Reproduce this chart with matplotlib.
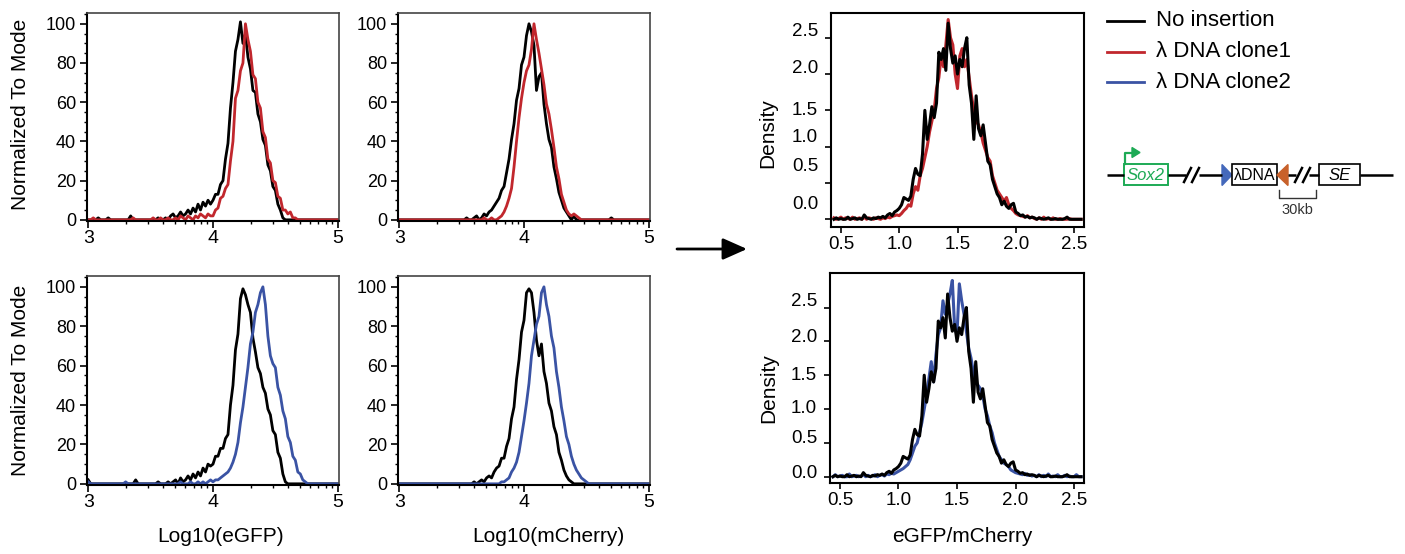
import numpy as np
import matplotlib
matplotlib.use('Agg')
import matplotlib.pyplot as plt
from matplotlib.ticker import MultipleLocator
from matplotlib.patches import Rectangle, Polygon

plt.rcParams['font.family'] = ['Liberation Sans', 'DejaVu Sans']

# ---- data: flow histograms, bins 3.00 .. 5.00 step 0.02 (log10 intensity)
log_bins = np.round(3.0 + 0.02 * np.arange(101), 2)

egfp_ctrl_a = [0, 0, 0, 0, 1, 0, 0, 0, 1, 0,
               0, 0, 0, 0, 0, 0, 0, 2, 0, 0,
               0, 0, 0, 0, 0, 0, 0, 0, 1, 0,
               0, 1, 0, 2, 3, 1, 2, 4, 2, 3,
               5, 3, 6, 4, 8, 5, 9, 7, 10, 8,
               10, 13, 13, 18, 20, 31, 39, 57, 70, 86,
               92, 101, 90, 95, 83, 77, 66, 65, 54, 50,
               41, 38, 28, 25, 17, 15, 8, 5, 1, 0,
               0, 0, 0, 0, 0, 0, 0, 0, 0, 0,
               0, 0, 0, 0, 0, 0, 0, 0, 0, 0,
               0]
egfp_clone1 = [0, 0, 1, 0, 0, 0, 0, 0, 0, 0,
               0, 0, 0, 0, 0, 0, 0, 0, 1, 0,
               0, 0, 0, 0, 0, 0, 1, 0, 0, 1,
               0, 0, 1, 0, 0, 1, 0, 2, 1, 0,
               2, 1, 0, 2, 1, 3, 2, 1, 3, 2,
               2, 5, 6, 11, 12, 16, 18, 30, 40, 62,
               66, 76, 80, 100, 92, 86, 74, 72, 60, 57,
               45, 42, 31, 29, 20, 19, 12, 11, 5, 5,
               3, 4, 1, 1, 0, 0, 0, 0, 0, 0,
               0, 0, 0, 0, 0, 0, 0, 0, 0, 0,
               0]
egfp_ctrl_b = [2, 0, 0, 0, 0, 0, 0, 0, 0, 0,
               0, 0, 0, 0, 0, 0, 0, 0, 0, 2,
               0, 0, 0, 0, 0, 0, 0, 0, 1, 0,
               0, 0, 1, 0, 1, 2, 0, 3, 1, 2,
               4, 2, 5, 3, 6, 4, 8, 6, 10, 9,
               10, 14, 14, 18, 18, 23, 25, 40, 50, 68,
               76, 94, 99, 96, 91, 87, 74, 67, 59, 56,
               49, 46, 38, 35, 27, 25, 16, 13, 5, 1,
               0, 0, 0, 0, 0, 0, 0, 0, 0, 0,
               0, 0, 0, 0, 0, 0, 0, 0, 0, 0,
               0]
egfp_clone2 = [1, 0, 0, 0, 0, 0, 0, 0, 0, 0,
               0, 0, 0, 0, 0, 1, 0, 0, 0, 0,
               0, 0, 0, 0, 0, 0, 0, 0, 0, 0,
               0, 0, 0, 0, 0, 0, 0, 1, 0, 0,
               0, 1, 0, 0, 1, 0, 1, 0, 1, 2,
               1, 2, 2, 3, 4, 5, 6, 8, 11, 15,
               21, 31, 39, 49, 59, 71, 77, 87, 91, 97,
               100, 91, 75, 65, 61, 59, 49, 45, 37, 33,
               24, 21, 14, 12, 6, 5, 2, 1, 0, 0,
               0, 0, 0, 0, 0, 0, 0, 0, 0, 0,
               0]
mch_ctrl_a = [0, 0, 0, 0, 0, 0, 0, 0, 0, 0,
              0, 0, 0, 0, 0, 0, 0, 0, 0, 0,
              0, 0, 0, 0, 0, 0, 0, 1, 0, 0,
              1, 2, 0, 1, 3, 2, 4, 5, 7, 9,
              11, 15, 17, 24, 31, 41, 49, 61, 67, 79,
              83, 94, 100, 96, 89, 66, 73, 75, 59, 49,
              41, 37, 27, 21, 14, 10, 6, 4, 2, 0,
              2, 0, 0, 0, 0, 0, 0, 0, 0, 0,
              0, 0, 0, 0, 0, 1, 0, 0, 0, 0,
              0, 0, 0, 0, 0, 0, 0, 0, 0, 0,
              0]
mch_clone1 = [0, 0, 0, 0, 0, 0, 0, 0, 0, 0,
              0, 0, 0, 0, 0, 0, 0, 0, 0, 0,
              0, 0, 0, 0, 0, 0, 0, 0, 0, 0,
              0, 0, 0, 0, 1, 0, 0, 1, 0, 0,
              1, 2, 4, 7, 11, 16, 27, 40, 52, 62,
              70, 76, 79, 87, 100, 92, 85, 77, 69, 59,
              54, 46, 37, 27, 21, 13, 9, 5, 3, 2,
              3, 2, 1, 0, 0, 0, 0, 0, 0, 0,
              0, 0, 0, 0, 0, 0, 0, 0, 0, 0,
              0, 0, 0, 0, 0, 0, 0, 0, 0, 0,
              0]
mch_ctrl_b = [0, 0, 0, 0, 0, 0, 0, 0, 0, 0,
              0, 0, 0, 0, 0, 0, 0, 0, 0, 0,
              0, 0, 0, 0, 0, 0, 0, 0, 0, 0,
              1, 0, 1, 2, 1, 3, 4, 3, 6, 8,
              9, 13, 13, 19, 23, 33, 39, 53, 63, 77,
              83, 97, 99, 97, 87, 73, 65, 71, 57, 51,
              41, 37, 29, 25, 16, 12, 7, 4, 2, 1,
              0, 0, 0, 0, 0, 0, 0, 0, 0, 0,
              0, 0, 0, 0, 0, 0, 0, 0, 0, 0,
              0, 0, 0, 0, 0, 0, 0, 0, 0, 0,
              0]
mch_clone2 = [0, 0, 0, 0, 0, 0, 0, 0, 0, 0,
              0, 0, 0, 0, 0, 0, 0, 0, 0, 0,
              0, 0, 0, 0, 0, 0, 0, 0, 0, 0,
              0, 0, 0, 0, 0, 0, 0, 0, 0, 0,
              0, 1, 1, 2, 3, 6, 8, 11, 16, 24,
              32, 41, 51, 65, 73, 81, 85, 97, 100, 91,
              85, 75, 69, 57, 49, 39, 32, 24, 20, 14,
              10, 7, 5, 3, 2, 1, 0, 0, 0, 0,
              0, 0, 0, 0, 0, 0, 0, 0, 0, 0,
              0, 0, 0, 0, 0, 0, 0, 0, 0, 0,
              0]

# ---- data: eGFP/mCherry density, bins 0.44 .. 2.56 step 0.02
ratio_bins = np.round(0.44 + 0.02 * np.arange(107), 2)

ratio_ctrl = [0.0, 0.02, 0.0, 0.01, 0.0, 0.0, 0.03, 0.0, 0.01, 0.02,
              0.0, 0.01, 0.0, 0.06, 0.02, 0.01, 0.0, 0.02, 0.01, 0.03,
              0.02, 0.04, 0.02, 0.06, 0.08, 0.05, 0.10, 0.12, 0.15, 0.20,
              0.30, 0.28, 0.26, 0.32, 0.55, 0.70, 0.62, 0.60, 0.90, 1.50,
              1.10, 1.30, 1.55, 1.40, 1.60, 2.30, 2.20, 2.35, 2.05, 2.70,
              2.35, 2.15, 2.25, 2.00, 2.20, 2.10, 2.35, 2.50, 1.85, 1.60,
              1.10, 1.70, 1.25, 1.15, 1.30, 1.05, 0.80, 0.75, 0.55, 0.45,
              0.35, 0.30, 0.20, 0.25, 0.18, 0.15, 0.20, 0.22, 0.10, 0.08,
              0.05, 0.06, 0.03, 0.04, 0.02, 0.03, 0.02, 0.0, 0.02, 0.01,
              0.0, 0.01, 0.02, 0.0, 0.0, 0.01, 0.0, 0.0, 0.0, 0.01,
              0.03, 0.0, 0.0, 0.0, 0.0, 0.0, 0.0]
ratio_clone1 = [0.02, 0.0, 0.01, 0.03, 0.0, 0.02, 0.01, 0.0, 0.03, 0.0,
                0.01, 0.02, 0.0, 0.03, 0.0, 0.02, 0.01, 0.0, 0.02, 0.01,
                0.0, 0.02, 0.01, 0.03, 0.02, 0.04, 0.05, 0.06, 0.05, 0.08,
                0.12, 0.15, 0.20, 0.18, 0.35, 0.45, 0.40, 0.60, 0.70, 0.85,
                1.00, 1.20, 1.35, 1.50, 1.80, 1.95, 2.25, 2.10, 2.40, 2.75,
                2.50, 2.40, 2.00, 1.80, 2.25, 2.35, 2.10, 2.20, 1.95, 1.70,
                1.50, 1.35, 1.30, 1.20, 1.05, 0.95, 0.85, 0.80, 0.60, 0.50,
                0.40, 0.35, 0.30, 0.25, 0.30, 0.20, 0.15, 0.12, 0.08, 0.06,
                0.05, 0.04, 0.03, 0.05, 0.02, 0.03, 0.01, 0.0, 0.02, 0.0,
                0.03, 0.0, 0.01, 0.0, 0.02, 0.0, 0.0, 0.01, 0.0, 0.0,
                0.0, 0.01, 0.0, 0.0, 0.0, 0.0, 0.0]
ratio_clone2 = [0.0, 0.03, 0.0, 0.01, 0.02, 0.0, 0.0, 0.04, 0.0, 0.01,
                0.02, 0.0, 0.01, 0.03, 0.0, 0.02, 0.0, 0.01, 0.03, 0.0,
                0.02, 0.03, 0.01, 0.04, 0.03, 0.05, 0.04, 0.06, 0.08, 0.10,
                0.12, 0.15, 0.18, 0.25, 0.35, 0.45, 0.50, 0.65, 0.80, 1.00,
                1.20, 1.45, 1.70, 1.40, 1.80, 2.10, 2.20, 2.60, 2.40, 2.55,
                2.70, 2.90, 2.20, 2.10, 2.85, 2.60, 2.40, 2.15, 1.90, 1.75,
                1.55, 1.40, 1.35, 1.30, 1.20, 1.00, 0.90, 0.75, 0.65, 0.50,
                0.40, 0.30, 0.25, 0.20, 0.18, 0.15, 0.10, 0.08, 0.06, 0.05,
                0.04, 0.03, 0.05, 0.02, 0.03, 0.01, 0.02, 0.0, 0.03, 0.0,
                0.02, 0.0, 0.04, 0.0, 0.01, 0.0, 0.03, 0.0, 0.0, 0.02,
                0.0, 0.01, 0.0, 0.0, 0.03, 0.0, 0.0]

legend_labels = ['No insertion', 'λ DNA clone1', 'λ DNA clone2']
RED = '#c1272d'
BLUE = '#3a53a4'
legend_colors = ['black', RED, BLUE]

dens_xticks = [0.5, 1.0, 1.5, 2.0, 2.5]
dens_yticks = [0.0, 0.5, 1.0, 1.5, 2.0, 2.5]

W, H = 1405, 554
fig = plt.figure(figsize=(W / 100, H / 100), dpi=100)


def box(x0, y0, x1, y1):
    return fig.add_axes([x0 / W, 1 - y1 / H, (x1 - x0) / W, (y1 - y0) / H])


def ftext(x, y, s, **kw):
    fig.text(x / W, 1 - y / H, s, ha='center', va='center', **kw)


minor_x = [np.log10(k * 10.0 ** e) for e in (3, 4) for k in range(2, 10)]


def hist_panel(ax, ctrl, clone, color):
    ax.plot(log_bins, ctrl, color='black', lw=2)
    ax.plot(log_bins, clone, color=color, lw=2)
    ax.set_xlim(2.99, 5.01)
    ax.set_ylim(-0.6, 105.5)
    ax.set_xticks([3, 4, 5])
    ax.set_xticks(minor_x, minor=True)
    ax.set_yticks([0, 20, 40, 60, 80, 100])
    ax.yaxis.set_minor_locator(MultipleLocator(5))
    ax.tick_params(which='major', length=5, width=1.2)
    ax.tick_params(which='minor', length=2.5, width=1)
    ax.tick_params(axis='x', which='major', pad=1.5, labelsize=14)
    ax.tick_params(axis='y', which='major', pad=3, labelsize=13)
    for s in ['left', 'bottom']:
        ax.spines[s].set_linewidth(1.5)
    for s in ['top', 'right']:
        ax.spines[s].set_linewidth(1.2)
        ax.spines[s].set_color('#444444')


def dens_panel(ax, clone, color, ylim, lab_pos):
    ax.plot(ratio_bins, clone, color=color, lw=2.2)
    ax.plot(ratio_bins, ratio_ctrl, color='black', lw=2.2)
    ax.set_xlim(0.415, 2.585)
    ax.set_ylim(*ylim)
    ax.set_xticks(dens_xticks)
    ax.set_xticklabels([f'{v:.1f}' for v in dens_xticks])
    ax.set_yticks(dens_yticks)
    ax.set_yticklabels([])
    for v, p in zip(dens_yticks, lab_pos):
        ax.text(-0.051, p, f'{v:.1f}', transform=ax.get_yaxis_transform(),
                ha='right', va='center', fontsize=13.5)
    ax.tick_params(length=4.3, width=1.2, labelsize=13.5, pad=2.5)
    for s in ax.spines.values():
        s.set_linewidth(1.5)


ax1 = box(87, 13, 339, 221)
hist_panel(ax1, egfp_ctrl_a, egfp_clone1, RED)
ax2 = box(398, 13, 650, 221)
hist_panel(ax2, mch_ctrl_a, mch_clone1, RED)
ax3 = box(87, 276, 339, 485)
hist_panel(ax3, egfp_ctrl_b, egfp_clone2, BLUE)
ax4 = box(398, 276, 650, 485)
hist_panel(ax4, mch_ctrl_b, mch_clone2, BLUE)

ax5 = box(831, 13, 1084, 227)
dens_panel(ax5, ratio_clone1, RED, (-0.106, 2.84), [0.21, 0.72, 1.13, 1.50, 2.07, 2.58])
ax6 = box(830, 273, 1084, 483)
dens_panel(ax6, ratio_clone2, BLUE, (-0.093, 3.01), [0.04, 0.57, 1.01, 1.50, 2.05, 2.59])

# axis titles
ftext(21, 114, 'Normalized To Mode', rotation=90, fontsize=15)
ftext(21, 380, 'Normalized To Mode', rotation=90, fontsize=15)
ftext(221, 537, 'Log10(eGFP)', fontsize=15)
ftext(548, 537, 'Log10(mCherry)', fontsize=15)
ftext(768, 133, 'Density', rotation=90, fontsize=15)
ftext(769, 388, 'Density', rotation=90, fontsize=15)
ftext(962, 537, 'eGFP/mCherry', fontsize=15)

# overlay in pixel coordinates: arrow, legend, construct sketch
ov = fig.add_axes([0, 0, 1, 1])
ov.set_xlim(0, W)
ov.set_ylim(H, 0)
ov.axis('off')
ov.patch.set_visible(False)

ov.annotate('', xy=(747, 249), xytext=(677, 249),
            arrowprops=dict(arrowstyle='-|>,head_length=0.45,head_width=0.2',
                            mutation_scale=33, lw=2, color='black',
                            shrinkA=0, shrinkB=0))

for i, (lab, col) in enumerate(zip(legend_labels, legend_colors)):
    y = 21 + 30.5 * i
    ov.plot([1107, 1144], [y, y], color=col, lw=2)
    ov.text(1156, y, lab, fontsize=16, va='center', ha='left')

GREEN = '#1daa55'
y0 = 175
for a, b in [(1107, 1124), (1168, 1186), (1199, 1222), (1288, 1296),
             (1309, 1319), (1360, 1393)]:
    ov.plot([a, b], [y0, y0], color='black', lw=1.8, solid_capstyle='butt')
for xs in [1184, 1192, 1295, 1303]:
    ov.plot([xs, xs + 7], [y0 + 7, y0 - 7], color='black', lw=1.8)

ov.add_patch(Rectangle((1124, 164), 44, 21, fill=True, fc='white', ec=GREEN, lw=1.4))
ov.text(1146, y0, 'Sox2', color=GREEN, style='italic', fontsize=12, ha='center', va='center')
ov.plot([1125, 1125, 1133], [164, 152.5, 152.5], color=GREEN, lw=1.6)
ov.add_patch(Polygon([(1132, 147.5), (1140, 152.5), (1132, 157.5)], closed=True, color=GREEN))

ov.add_patch(Polygon([(1222, 164.5), (1232, 175), (1222, 185.5)], closed=True, color='#4468bb'))
ov.add_patch(Rectangle((1232, 164), 45, 21, fill=True, fc='white', ec='black', lw=1.2))
ov.text(1254.5, y0, 'λDNA', fontsize=11.5, ha='center', va='center')
ov.add_patch(Polygon([(1288, 164.5), (1277, 175), (1288, 185.5)], closed=True, color='#c8612a'))

ov.add_patch(Rectangle((1319, 164), 41, 21, fill=True, fc='white', ec='black', lw=1.2))
ov.text(1339.5, y0, 'SE', style='italic', fontsize=12, ha='center', va='center')

ov.plot([1279, 1279, 1316, 1316], [190, 198, 198, 190], color='#333333', lw=1)
ov.text(1297, 210, '30kb', fontsize=10.5, color='#333333', ha='center', va='center')

fig.savefig('out.png', dpi=100)
